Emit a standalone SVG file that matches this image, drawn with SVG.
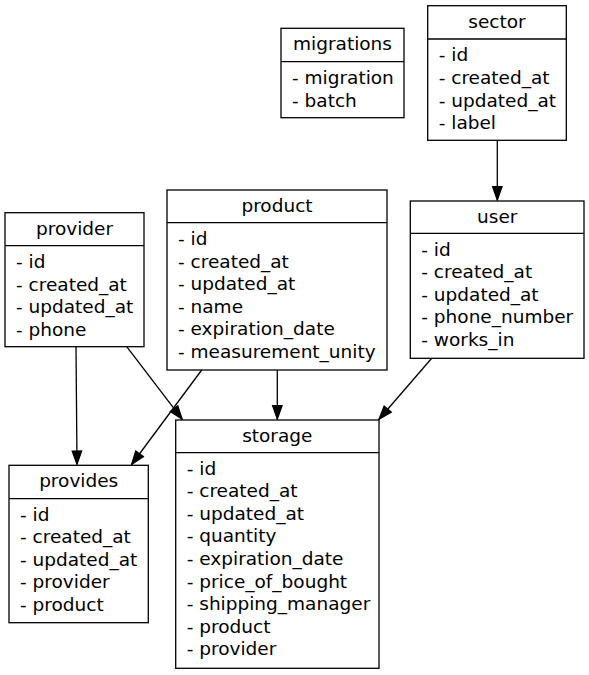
<svg xmlns="http://www.w3.org/2000/svg" width="589" height="675" viewBox="0 0 589 675">
<defs>
<style>
.box{fill:#fff;stroke:#000;stroke-width:1.3}
.div{stroke:#000;stroke-width:1.3}
text{font-family:"DejaVu Sans","Liberation Sans",sans-serif;font-size:18.5px;fill:#000}
.h{text-anchor:middle}
.edge{stroke:#000;stroke-width:1.3;fill:none;marker-end:url(#arr)}
</style>
<marker id="arr" markerUnits="userSpaceOnUse" markerWidth="16" markerHeight="12" refX="13.3" refY="4.67" orient="auto" overflow="visible">
<path d="M0,0 L13.3,4.67 L0,9.33 z" fill="#000" stroke="#000" stroke-width="1.3"/>
</marker>
</defs>
<rect width="589" height="675" fill="#fff"/>
<g id="edges">
<path class="edge" d="M497.3,140.3 L497.3,200"/>
<path class="edge" d="M76,346.7 L77,464.3"/>
<path class="edge" d="M126.7,346.7 L182.1,419.2"/>
<path class="edge" d="M201.7,370 L131.6,464.5"/>
<path class="edge" d="M277.3,370 L277.3,419"/>
<path class="edge" d="M431.7,358.3 L379,419.2"/>
</g>
<g id="migrations">
<rect class="box" x="281" y="28.3" width="123" height="89.4"/>
<line class="div" x1="281" y1="61.7" x2="404" y2="61.7"/>
<text class="h" x="342.5" y="50.3">migrations</text>
<text x="292" y="84">- migration</text>
<text x="292" y="106.6">- batch</text>
</g>
<g id="sector">
<rect class="box" x="427.7" y="5.7" width="138.6" height="134.6"/>
<line class="div" x1="427.7" y1="39" x2="566.3" y2="39"/>
<text class="h" x="497" y="27.7">sector</text>
<text x="438.7" y="61.3">- id</text>
<text x="438.7" y="83.9">- created_at</text>
<text x="438.7" y="106.5">- updated_at</text>
<text x="438.7" y="129.1">- label</text>
</g>
<g id="provider">
<rect class="box" x="5" y="212.7" width="139" height="134"/>
<line class="div" x1="5" y1="245.7" x2="144" y2="245.7"/>
<text class="h" x="74.5" y="234.7">provider</text>
<text x="16" y="268">- id</text>
<text x="16" y="290.6">- created_at</text>
<text x="16" y="313.2">- updated_at</text>
<text x="16" y="335.8">- phone</text>
</g>
<g id="product">
<rect class="box" x="167" y="190" width="220" height="180"/>
<line class="div" x1="167" y1="222.7" x2="387" y2="222.7"/>
<text class="h" x="277" y="212">product</text>
<text x="178" y="245">- id</text>
<text x="178" y="267.6">- created_at</text>
<text x="178" y="290.2">- updated_at</text>
<text x="178" y="312.8">- name</text>
<text x="178" y="335.4">- expiration_date</text>
<text x="178" y="358">- measurement_unity</text>
</g>
<g id="user">
<rect class="box" x="410.3" y="201" width="173.7" height="157.3"/>
<line class="div" x1="410.3" y1="233.3" x2="584" y2="233.3"/>
<text class="h" x="497.2" y="222.7">user</text>
<text x="421.3" y="255.6">- id</text>
<text x="421.3" y="278.2">- created_at</text>
<text x="421.3" y="300.8">- updated_at</text>
<text x="421.3" y="323.4">- phone_number</text>
<text x="421.3" y="346">- works_in</text>
</g>
<g id="provides">
<rect class="box" x="9" y="465.3" width="139.3" height="157.4"/>
<line class="div" x1="9" y1="498.7" x2="148.3" y2="498.7"/>
<text class="h" x="78.7" y="487">provides</text>
<text x="20" y="520.6">- id</text>
<text x="20" y="543.2">- created_at</text>
<text x="20" y="565.8">- updated_at</text>
<text x="20" y="588.4">- provider</text>
<text x="20" y="611">- product</text>
</g>
<g id="storage">
<rect class="box" x="175.7" y="420" width="203.3" height="248.3"/>
<line class="div" x1="175.7" y1="452.7" x2="379" y2="452.7"/>
<text class="h" x="277.3" y="441.5">storage</text>
<text x="186.7" y="474.6">- id</text>
<text x="186.7" y="497.2">- created_at</text>
<text x="186.7" y="519.8">- updated_at</text>
<text x="186.7" y="542.4">- quantity</text>
<text x="186.7" y="565">- expiration_date</text>
<text x="186.7" y="587.6">- price_of_bought</text>
<text x="186.7" y="610.2">- shipping_manager</text>
<text x="186.7" y="632.8">- product</text>
<text x="186.7" y="655.4">- provider</text>
</g>
</svg>
